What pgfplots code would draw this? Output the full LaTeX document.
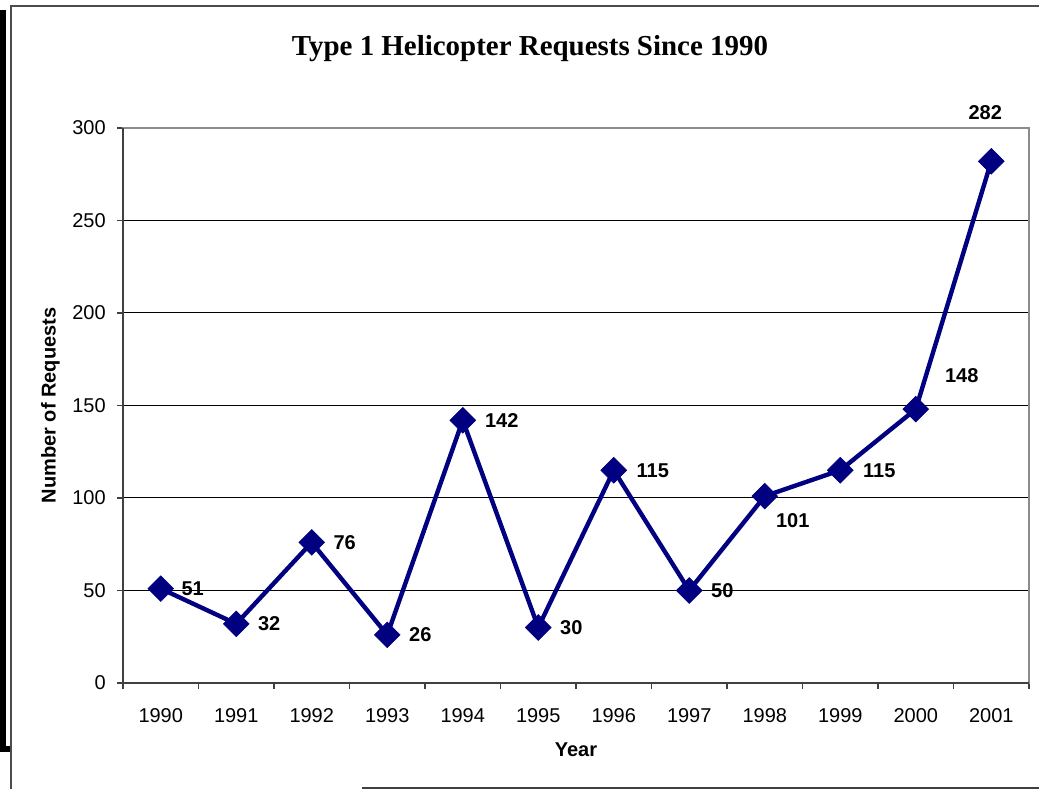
\documentclass[border=0pt]{standalone}
\usepackage{fontspec}
\setmainfont{Liberation Sans}
\newfontfamily\titlefont{Liberation Serif}
\usepackage{pgfplots}
\pgfplotsset{compat=1.18}
\usepackage{pgfplotstable}

\definecolor{navyline}{RGB}{0,0,128}
\definecolor{spinedark}{RGB}{64,64,64}
\definecolor{spinelight}{RGB}{140,140,140}

% year index, requests, label offset (pt)
\pgfplotstableread{
x  y    dx     dy
0  51   24     0
1  32   24.75  0
2  76   24.75  0
3  26   24.75  0
4  142  29.25  0
5  30   24.75  0
6  115  29.25  0
7  50   24.75  0
8  101  21     -18
9  115  29.25  0
10 148  34.5   25.5
11 282  -4.5   36.75
}\requests

\begin{document}
\begin{tikzpicture}[x=0.75pt,y=0.75pt]
  \path[use as bounding box] (0,0) rectangle (1039,789);
  % page frame around the chart
  \fill[black] (0,43) rectangle (6,779);
  \fill[black] (0,37) rectangle (11,43);
  \draw[line width=1.5pt, black!70] (11,0) -- (11,783) -- (1039,783);
  \draw[line width=1.2pt, black!75] (362,1) -- (1039,1);
  \node[font=\titlefont\bfseries\fontsize{21.7}{26}\selectfont, anchor=base]
    at (530,733) {Type 1 Helicopter Requests Since 1990};
  \begin{axis}[
    at={(92.25pt,79.5pt)}, anchor=south west,
    width=679.5pt, height=416.25pt, scale only axis,
    clip=false,
    xmin=-0.5, xmax=11.5, ymin=0, ymax=300,
    xtick={-0.5,0.5,...,11.5},
    x tick label as interval,
    xticklabels={1990,1991,1992,1993,1994,1995,1996,1997,1998,1999,2000,2001},
    ytick={0,50,...,300},
    ymajorgrids,
    major grid style={black, line width=0.75pt},
    axis line style={spinelight, line width=1.5pt},
    tick align=outside,
    tick pos=left,
    major tick length=4.5pt,
    tick style={spinedark, line width=1pt},
    /pgf/number format/assume math mode=true,
    every tick label/.append style={font=\fontsize{15}{18}\selectfont},
    xticklabel style={anchor=base, yshift=-25pt},
    yticklabel style={anchor=east, inner sep=0pt, xshift=-8.25pt},
    xlabel={Year}, ylabel={Number of Requests},
    every axis x label/.style={at={(rel axis cs:0.5,0)}, anchor=center,
      yshift=-50.25pt, font=\bfseries\fontsize{15}{18}\selectfont},
    every axis y label/.style={at={(rel axis cs:0,0.5)}, anchor=center,
      xshift=-54.5pt, rotate=90, font=\bfseries\fontsize{15}{18}\selectfont},
  ]
    \draw[spinedark, line width=1.5pt] (rel axis cs:0,1) -- (rel axis cs:0,0) -- (rel axis cs:1,0);
    \addplot[navyline, line width=3.3pt,
      mark=square*, mark size=6.8pt,
      mark options={rotate=45, line width=0.5pt, solid, fill=navyline},
      nodes near coords,
      visualization depends on={\thisrow{dx}\as\dx},
      visualization depends on={\thisrow{dy}\as\dy},
      every node near coord/.append style={anchor=center, xshift=\dx pt, yshift=\dy pt,
        text=black, font=\bfseries\fontsize{15}{18}\selectfont},
    ] table[x=x, y=y] {\requests};
  \end{axis}
\end{tikzpicture}
\end{document}
